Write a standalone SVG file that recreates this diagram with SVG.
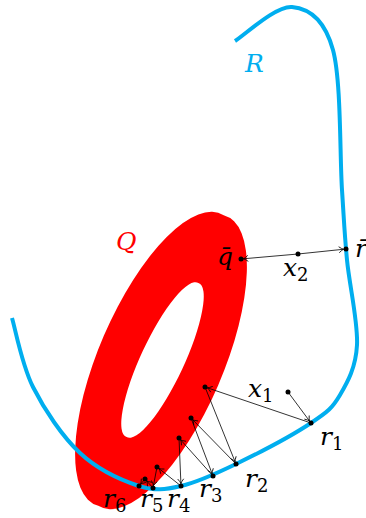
<svg xmlns="http://www.w3.org/2000/svg" width="366" height="518" viewBox="0 0 366 518">
<style>
.lbl{font-family:"DejaVu Serif","Liberation Serif",serif;font-style:italic;font-size:25px;fill:#000}
.sub{font-size:18px;font-style:normal}
.dot{fill:#000}
.ar{stroke:#000;stroke-width:0.8;fill:none;marker-end:url(#ah)}
</style>
<defs>
<marker id="ah" viewBox="-6 -5 10 10" markerWidth="10" markerHeight="10" refX="2.6" refY="0" orient="auto" markerUnits="userSpaceOnUse" overflow="visible">
<path d="M-4.5,-3 Q-1.5,-0.6 0,0 Q-1.5,0.6 -4.5,3" fill="none" stroke="#000" stroke-width="0.8"/>
</marker>
</defs>
<rect width="366" height="518" fill="#fff"/>
<g id="Q">
<path fill="#FF0000" fill-rule="evenodd" d="M98.3,505.8 A158.5,59 -66.7 1,1 223.7,215.2 A158.5,59 -66.7 1,1 98.3,505.8 Z M126.6,437 A85,21 -65 1,1 198.4,283 A85,21 -65 1,1 126.6,437 Z"/>
<text class="lbl" x="116" y="250" style="fill:#FF0000">Q</text>
</g>
<g id="R">
<path fill="none" stroke="#00AEEF" stroke-width="4" d="M235,41 C244.5,35.3 275.7,5.5 292,7 C308.3,8.5 324.7,19.5 333,50 C341.3,80.5 339.7,155 342,190 C344.3,225 344.5,234.2 347,260 C349.5,285.8 358.2,322.5 357,345 C355.8,367.5 347.7,382 340,395 C332.3,408 328.3,411.5 311,423 C293.7,434.5 257.7,453.5 236,464 C214.3,474.5 197.2,482.3 181,486 C164.8,489.7 155.8,491 139,486 C122.2,480.5 97.7,469.5 80,453 C62.3,436.5 44.3,409.5 33,387 C21.7,364.5 15.5,329.5 12,318"/>
<text class="lbl" x="245" y="72" style="fill:#00AEEF">R</text>
</g>
<g id="connectors">
<line class="ar" x1="288" y1="392" x2="311" y2="423"/>
<line class="ar" x1="311" y1="423" x2="205" y2="387"/>
<line class="ar" x1="205" y1="387" x2="236" y2="464"/>
<line class="ar" x1="236" y1="464" x2="191" y2="418"/>
<line class="ar" x1="191" y1="418" x2="213" y2="476"/>
<line class="ar" x1="213" y1="476" x2="179" y2="438"/>
<line class="ar" x1="179" y1="438" x2="181" y2="486"/>
<line class="ar" x1="181" y1="486" x2="157" y2="467"/>
<line class="ar" x1="157" y1="467" x2="153" y2="488"/>
<line class="ar" x1="153" y1="488" x2="145" y2="479"/>
<line class="ar" x1="145" y1="479" x2="139" y2="486"/>
<line class="ar" x1="298" y1="254" x2="346" y2="249"/>
<line class="ar" x1="298" y1="254" x2="241" y2="259"/>
</g>
<g id="x1"><circle class="dot" cx="288" cy="392" r="2.5"/><text class="lbl" x="248" y="397">x<tspan class="sub" dy="5">1</tspan></text></g>
<g id="x2"><circle class="dot" cx="298" cy="254" r="2.5"/><text class="lbl" x="283" y="276">x<tspan class="sub" dy="5">2</tspan></text></g>
<g id="qbar"><circle class="dot" cx="241" cy="259" r="2.5"/><text class="lbl" x="217" y="265">q̄</text></g>
<g id="rbar"><circle class="dot" cx="346" cy="249" r="2.5"/><text class="lbl" x="355" y="257">r̄</text></g>
<g id="r1"><circle class="dot" cx="311" cy="423" r="2.5"/><text class="lbl" x="320" y="445">r<tspan class="sub" dy="5">1</tspan></text></g>
<g id="r2"><circle class="dot" cx="236" cy="464" r="2.5"/><text class="lbl" x="245" y="487">r<tspan class="sub" dy="5">2</tspan></text></g>
<g id="r3"><circle class="dot" cx="213" cy="476" r="2.5"/><text class="lbl" x="199" y="497">r<tspan class="sub" dy="5">3</tspan></text></g>
<g id="r4"><circle class="dot" cx="181" cy="486" r="2.5"/><text class="lbl" x="167" y="507">r<tspan class="sub" dy="5">4</tspan></text></g>
<g id="r5"><circle class="dot" cx="153" cy="488" r="2.5"/><text class="lbl" x="140" y="507">r<tspan class="sub" dy="5">5</tspan></text></g>
<g id="r6"><circle class="dot" cx="139" cy="486" r="2.5"/><text class="lbl" x="103" y="507">r<tspan class="sub" dy="5">6</tspan></text></g>
<g id="p1"><circle class="dot" cx="205" cy="387" r="2.5"/></g>
<g id="p2"><circle class="dot" cx="191" cy="418" r="2.5"/></g>
<g id="p3"><circle class="dot" cx="179" cy="438" r="2.5"/></g>
<g id="p4"><circle class="dot" cx="157" cy="467" r="2.5"/></g>
<g id="p5"><circle class="dot" cx="145" cy="479" r="2.5"/></g>
</svg>
